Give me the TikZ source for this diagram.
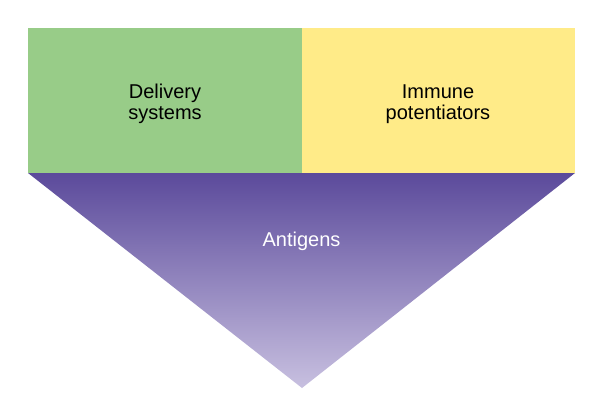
\documentclass[tikz,border=0pt]{standalone}
\usepackage{fontspec}
\setmainfont{Liberation Sans}
\definecolor{grn}{HTML}{98CC88}
\definecolor{ylw}{HTML}{FFEB88}
\definecolor{purtop}{HTML}{5B4A9B}
\definecolor{purbot}{HTML}{C8C0E0}
\begin{document}
\begin{tikzpicture}[x=1pt,y=-1pt,
  lbl/.style={font=\fontsize{20}{21.5}\selectfont, align=center, inner sep=0pt}]
\useasboundingbox (0,0) rectangle (600,407);
\fill[grn] (28,28) rectangle (301.5,173);
\fill[ylw] (301.5,28) rectangle (575,173);
\shade[top color=purtop, bottom color=purbot] (28,173) -- (575,173) -- (302,388) -- cycle;
\node[lbl] (deliv) at (165,104) {Delivery\\systems};
\node[lbl] (immune) at (438,104) {Immune\\potentiators};
\node[lbl, text=white] (anti) at (301.5,241) {Antigens};
\end{tikzpicture}
\end{document}
